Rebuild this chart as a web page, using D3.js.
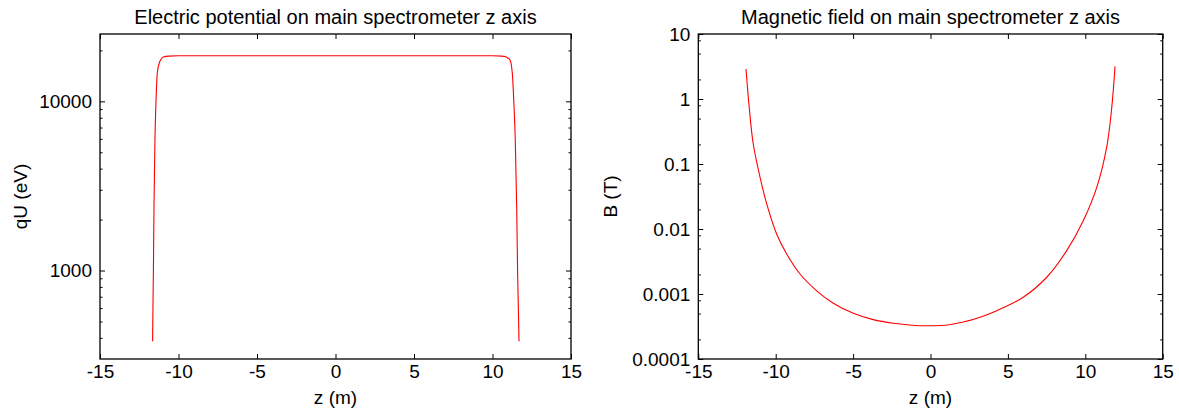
<!DOCTYPE html>
<html>
<head>
<meta charset="utf-8">
<script src="https://cdn.jsdelivr.net/npm/d3@7"></script>
<style>
  html, body { margin: 0; padding: 0; background: #fff; }
  svg { display: block; }
  text { font-family: "Liberation Sans", Arial, Helvetica, sans-serif; fill: #000; }
</style>
</head>
<body>
<svg id="chart" width="1179" height="408"></svg>
<script>
// ---------- data ----------
const titles = ["Electric potential on main spectrometer z axis", "Magnetic field on main spectrometer z axis"];
const xLabel = "z (m)";
const yLabels = ["qU (eV)", "B (T)"];
const xTicks = [-15, -10, -5, 0, 5, 10, 15];

// Electric potential (eV) along z (m)
const zE = [-11.65, -11.62, -11.60, -11.56, -11.50, -11.43, -11.35, -11.22, -11.10, -10.97, -10.6, -10.0, -5, 0, 5, 10.0, 10.6, 10.8, 10.97, 11.11, 11.26, 11.37, 11.45, 11.54, 11.60, 11.69];
const qU = [382, 700, 968, 2400, 5940, 10200, 14700, 16900, 17800, 18300, 18500, 18580, 18600, 18600, 18600, 18580, 18500, 18400, 18050, 17600, 14700, 9350, 5940, 2400, 968, 382];
const qUTicks = [1000, 10000];
const qUTickLabels = ["1000", "10000"];
const qUDomain = [300, 25000];

// Magnetic field (T) along z (m)
const zB = [-11.92, -11.70, -11.45, -11.01, -10.58, -9.94, -9.29, -8.43, -7.35, -6.28, -4.99, -3.70, -2.40, -1.2, 0, 1.2, 2.12, 3.2, 4.28, 5.99, 7.51, 8.80, 9.87, 10.74, 11.38, 11.71, 11.92];
const B = [2.9, 0.70, 0.203, 0.0624, 0.0243, 0.00838, 0.00412, 0.00203, 0.00112, 0.00072, 0.000505, 0.000403, 0.000354, 0.000331, 0.000325, 0.000337, 0.00037, 0.00044, 0.000553, 0.00089, 0.00181, 0.00465, 0.0134, 0.0437, 0.180, 0.744, 3.18];
const BTicks = [0.0001, 0.001, 0.01, 0.1, 1, 10];
const BTickLabels = ["0.0001", "0.001", "0.01", "0.1", "1", "10"];
const BDomain = [0.0001, 10];

// ---------- layout ----------
const svg = d3.select("#chart");
const FONT = 19;
const panels = [
  { x0: 100, x1: 571, z: zE, v: qU, ticks: qUTicks, labels: qUTickLabels, domain: qUDomain, minorMult: [2,3,4,5,6,7,8,9], ylabX: 27, curve: d3.curveMonotoneX },
  { x0: 698.3, x1: 1162.7, z: zB, v: B, ticks: BTicks, labels: BTickLabels, domain: BDomain, minorMult: [2,5,8], ylabX: 617, curve: d3.curveCatmullRom.alpha(0.5) }
];
const y0 = 34, y1 = 359;

panels.forEach((p, i) => {
  const x = d3.scaleLinear().domain([-15, 15]).range([p.x0, p.x1]);
  const y = d3.scaleLog().domain(p.domain).range([y1, y0]);
  const g = svg.append("g");

  // minor ticks for log axis
  const minors = [];
  const lo = Math.floor(Math.log10(p.domain[0])), hi = Math.ceil(Math.log10(p.domain[1]));
  for (let e = lo; e <= hi; e++) {
    p.minorMult.forEach(m => {
      const v = m * Math.pow(10, e);
      if (v > p.domain[0] * 1.0001 && v < p.domain[1] * 0.9999) minors.push(v);
    });
  }

  const style = sel => {
    sel.select(".domain").remove();
    sel.selectAll("line").attr("stroke", "#000").attr("stroke-width", 1);
    sel.selectAll("text").style("font-size", FONT + "px").attr("fill", "#000");
  };

  // bottom axis
  g.append("g").attr("transform", `translate(0,${y1})`)
    .call(d3.axisBottom(x).tickValues(xTicks).tickSize(-5).tickPadding(6).tickFormat(d => String(d)))
    .call(style);
  // top axis (mirror)
  g.append("g").attr("transform", `translate(0,${y0})`)
    .call(d3.axisTop(x).tickValues(xTicks).tickSize(-5).tickFormat(""))
    .call(style);
  // left axis
  g.append("g").attr("transform", `translate(${p.x0},0)`)
    .call(d3.axisLeft(y).tickValues(p.ticks).tickSize(-5).tickPadding(8).tickFormat((d, k) => p.labels[k]))
    .call(style);
  g.append("g").attr("transform", `translate(${p.x0},0)`)
    .call(d3.axisLeft(y).tickValues(minors).tickSize(-2.5).tickFormat(""))
    .call(style);
  // right axis (mirror)
  g.append("g").attr("transform", `translate(${p.x1},0)`)
    .call(d3.axisRight(y).tickValues(p.ticks).tickSize(-5).tickFormat(""))
    .call(style);
  g.append("g").attr("transform", `translate(${p.x1},0)`)
    .call(d3.axisRight(y).tickValues(minors).tickSize(-2.5).tickFormat(""))
    .call(style);

  // curve
  const pts = p.z.map((z, k) => [z, p.v[k]]);
  g.append("path")
    .datum(pts)
    .attr("fill", "none")
    .attr("stroke", "#ff0000")
    .attr("stroke-width", 1.1)
    .attr("d", d3.line().x(d => x(d[0])).y(d => y(d[1])).curve(p.curve));

  // border
  g.append("rect")
    .attr("x", p.x0).attr("y", y0)
    .attr("width", p.x1 - p.x0).attr("height", y1 - y0)
    .attr("fill", "none").attr("stroke", "#000").attr("stroke-width", 1.3);

  // title
  g.append("text")
    .attr("x", (p.x0 + p.x1) / 2).attr("y", 24)
    .attr("text-anchor", "middle")
    .style("font-size", "20px")
    .text(titles[i]);
  // x label
  g.append("text")
    .attr("x", (p.x0 + p.x1) / 2).attr("y", 404)
    .attr("text-anchor", "middle")
    .style("font-size", FONT + "px")
    .text(xLabel);
  // y label
  g.append("text")
    .attr("transform", `translate(${p.ylabX},${(y0 + y1) / 2}) rotate(-90)`)
    .attr("text-anchor", "middle")
    .style("font-size", FONT + "px")
    .text(yLabels[i]);
});
</script>
</body>
</html>
